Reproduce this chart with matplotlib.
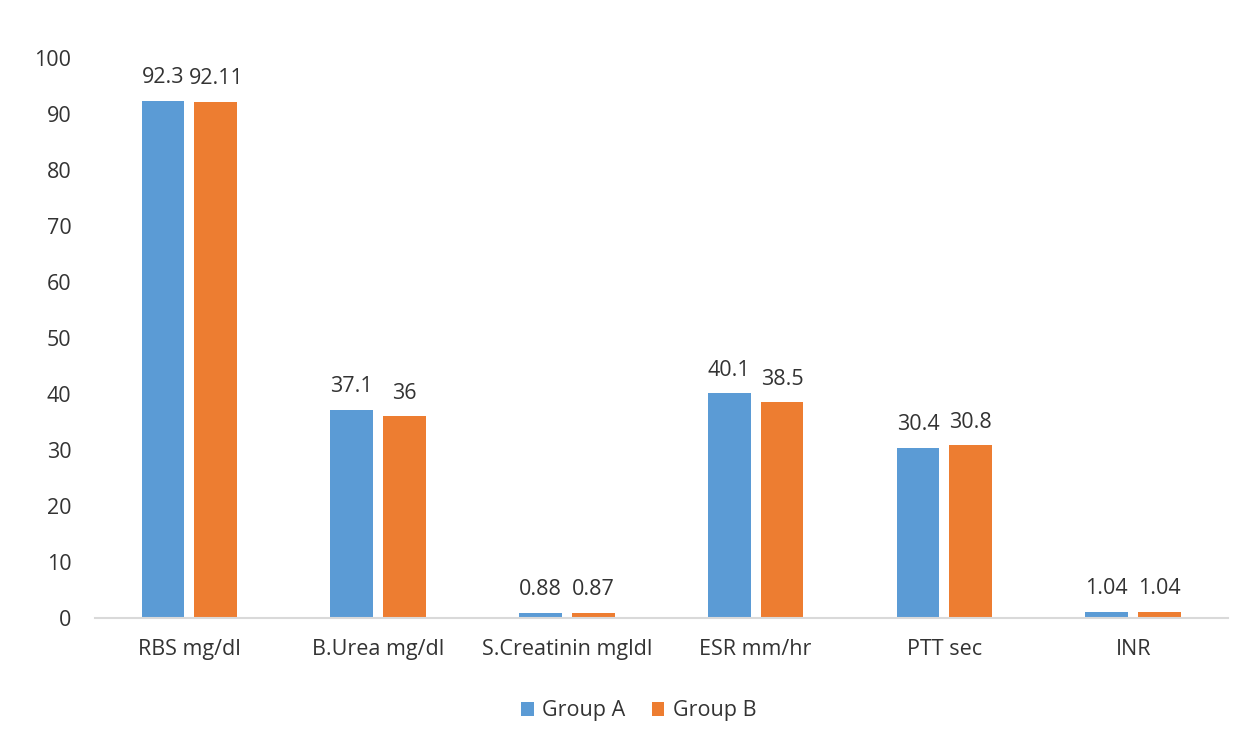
import matplotlib

matplotlib.use("Agg")
import matplotlib.pyplot as plt  # noqa: E402
import numpy as np  # noqa: E402

categories = ["RBS mg/dl", "B.Urea mg/dl", "S.Creatinin mgldl", "ESR mm/hr", "PTT sec", "INR"]
group_a = [92.3, 37.1, 0.88, 40.1, 30.4, 1.04]
group_b = [92.11, 36, 0.87, 38.5, 30.8, 1.04]
labels_a = ["92.3", "37.1", "0.88", "40.1", "30.4", "1.04"]
labels_b = ["92.11", "36", "0.87", "38.5", "30.8", "1.04"]

BLUE = "#5B9BD5"
ORANGE = "#ED7D31"
TEXT = "#333333"
FS = 15.5

plt.rcParams["font.family"] = ["Open Sans", "DejaVu Sans"]

fig = plt.figure(figsize=(12.5, 7.39), dpi=100)
ax = fig.add_axes([0.076, 0.164, 0.906, 0.758])

x = np.arange(len(categories))
w = 0.227
off = 0.14
bars_a = ax.bar(x - off, group_a, w, color=BLUE, label="Group A")
bars_b = ax.bar(x + off, group_b, w, color=ORANGE, label="Group B")

for bars, labs in ((bars_a, labels_a), (bars_b, labels_b)):
    for b, t in zip(bars, labs):
        ax.annotate(t, (b.get_x() + b.get_width() / 2, b.get_height()),
                    xytext=(0, 9), textcoords="offset points",
                    ha="center", va="bottom", fontsize=FS, color=TEXT)

ax.set_xlim(-0.5, len(categories) - 0.5)
ax.set_ylim(0, 100)
ax.set_yticks(range(0, 101, 10))
ax.set_xticks(x)
ax.set_xticklabels(categories)
ax.tick_params(axis="y", length=0, pad=17, labelsize=FS, labelcolor=TEXT)
ax.tick_params(axis="x", length=0, pad=15, labelsize=FS, labelcolor=TEXT)

for s in ("top", "right", "left"):
    ax.spines[s].set_visible(False)
ax.spines["bottom"].set_color("#D9D9D9")
ax.spines["bottom"].set_linewidth(1.5)

fig.legend(handles=[bars_a, bars_b], labels=["Group A", "Group B"],
           loc="center", bbox_to_anchor=(0.511, 0.038), ncol=2, frameon=False,
           fontsize=FS, handlelength=0.6, handleheight=0.6, handletextpad=0.4,
           columnspacing=1.2, labelcolor=TEXT)

fig.savefig("out.png", dpi=100)
